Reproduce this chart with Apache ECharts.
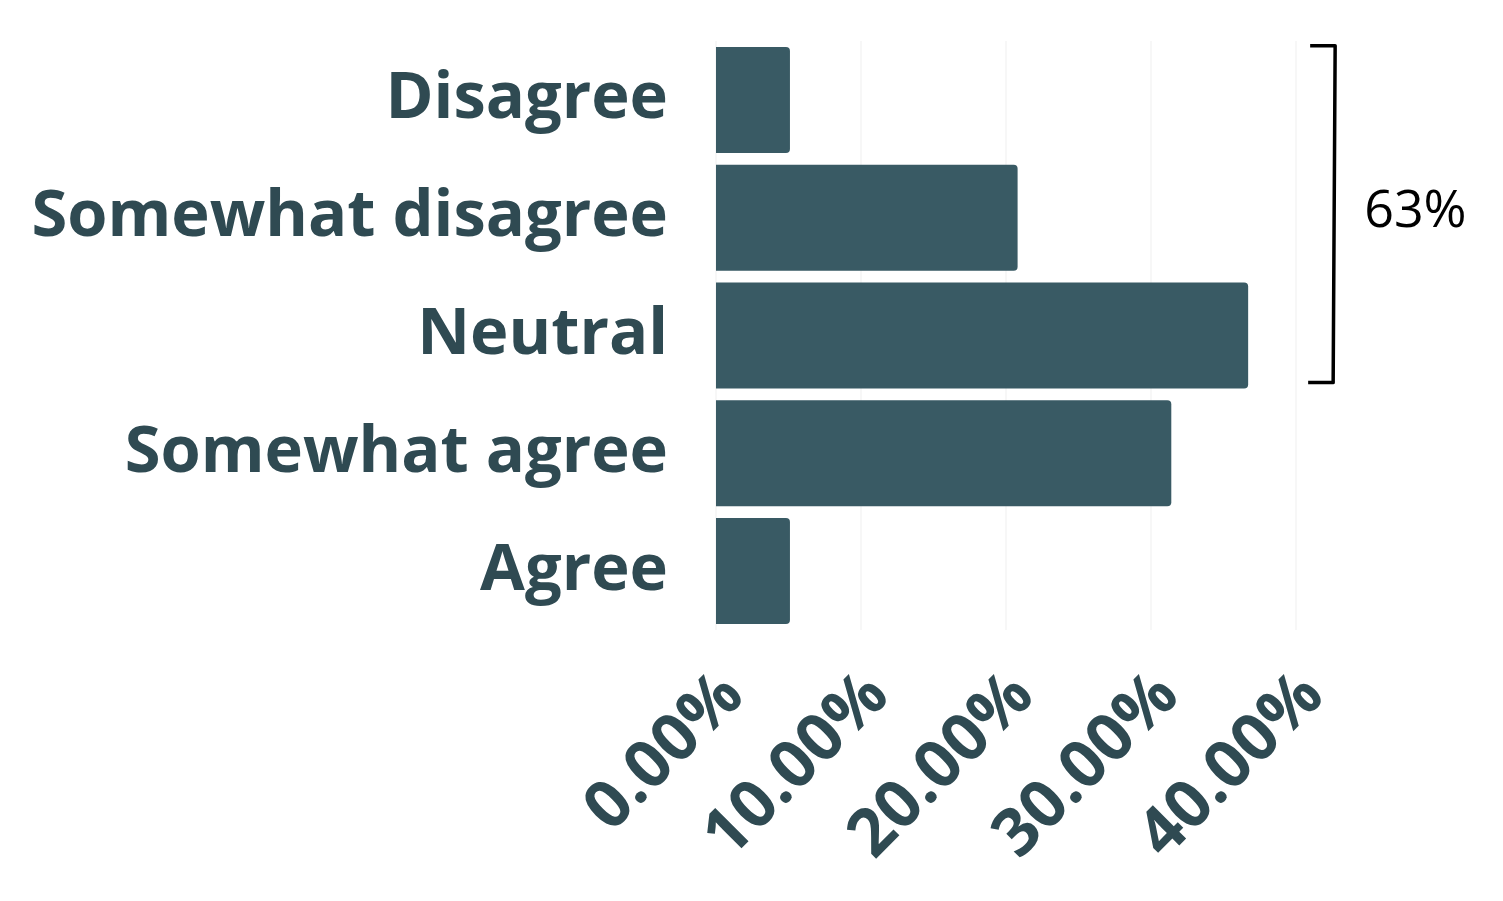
<!DOCTYPE html>
<html>
<head>
<meta charset="utf-8">
<script src="https://cdn.jsdelivr.net/npm/echarts@6/dist/echarts.min.js"></script>
<style>
html,body{margin:0;padding:0;background:#fff;}
#chart{width:1503px;height:901px;}
</style>
</head>
<body>
<div id="chart"></div>
<script>
const categories = ['Disagree', 'Somewhat disagree', 'Neutral', 'Somewhat agree', 'Agree'];
const values = [5.1, 20.8, 36.7, 31.4, 5.1];
const xTicks = [0, 10, 20, 30, 40];
const bracketCategories = ['Disagree', 'Neutral'];
const bracketLabel = '63%';

const chart = echarts.init(document.getElementById('chart'));
const barColor = '#395a64';
const textColor = '#2f4a52';

chart.setOption({
  animation: false,
  grid: { left: 716, right: 207, top: 41, bottom: 271, containLabel: false },
  xAxis: {
    type: 'value',
    min: xTicks[0], max: xTicks[xTicks.length - 1], interval: 10,
    axisLine: { show: false },
    axisTick: { show: false },
    splitLine: { show: true, lineStyle: { color: '#f7f7f7', width: 2 } },
    axisLabel: {
      rotate: 45, margin: 72, padding: [0, -24, 0, 0],
      formatter: v => v.toFixed(2) + '%',
      color: textColor, fontFamily: 'Open Sans', fontWeight: 700, fontSize: 66
    }
  },
  yAxis: {
    type: 'category', data: categories, inverse: true,
    axisLine: { show: false }, axisTick: { show: false },
    axisLabel: { margin: 48, color: textColor, fontFamily: 'Open Sans', fontWeight: 700, fontSize: 65 }
  },
  series: [{
    type: 'bar', data: values, barCategoryGap: '10%',
    itemStyle: { color: barColor, borderRadius: [0, 4, 4, 0] }
  }]
});

function drawBracket() {
  const topIdx = categories.indexOf(bracketCategories[0]);
  const botIdx = categories.indexOf(bracketCategories[1]);
  const yTopC = chart.convertToPixel({ yAxisIndex: 0 }, topIdx);
  const yBotC = chart.convertToPixel({ yAxisIndex: 0 }, botIdx);
  const band = (yBotC - yTopC) / (botIdx - topIdx);
  const yTop = yTopC - band * 0.46;
  const yBot = yBotC + band * 0.40;
  const x = chart.convertToPixel({ xAxisIndex: 0 }, 42.7);
  chart.setOption({
    graphic: [
      { type: 'polyline', shape: { points: [[x - 25, yTop], [x, yTop], [x - 2, yBot], [x - 27, yBot]] },
        style: { stroke: '#000', lineWidth: 3.5, fill: null, lineJoin: 'round' } },
      { type: 'text', x: x + 29, y: (yTop + yBot) / 2 - 2,
        style: { text: bracketLabel, fontFamily: 'Open Sans', fontSize: 52, fill: '#000', verticalAlign: 'middle' } }
    ]
  });
}
drawBracket();
</script>
</body>
</html>
